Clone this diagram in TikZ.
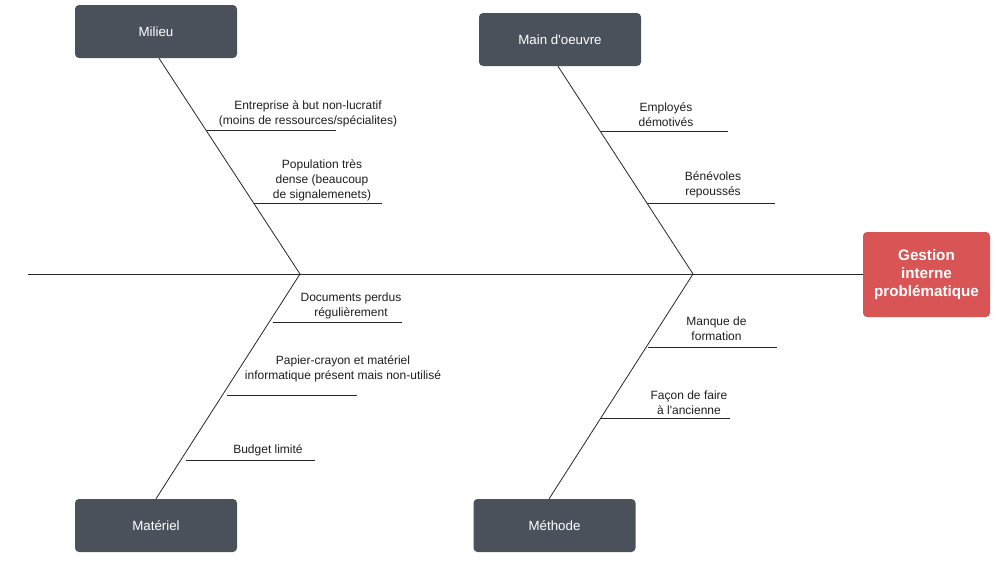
\documentclass[tikz,border=0pt]{standalone}
\usepackage{fontspec}
\setmainfont{Liberation Sans}
\definecolor{boxgray}{RGB}{75,81,91}
\definecolor{boxred}{RGB}{217,85,85}
\definecolor{txtgray}{RGB}{30,30,30}
\tikzset{
    category/.style={fill=boxgray, rounded corners=3pt, minimum width=121.5pt, minimum height=39.75pt,
        text=white, font=\fontsize{10}{12}\selectfont},
    effect/.style={fill=boxred, rounded corners=3pt, minimum width=95.25pt, minimum height=63.75pt,
        text=white, align=center, font=\bfseries\fontsize{11.4}{13.5}\selectfont},
    cause/.style={align=center, inner sep=0pt, text=txtgray, font=\fontsize{9}{11.25}\selectfont},
    bone/.style={line width=0.6pt, black!85}
}

\begin{document}
\begin{tikzpicture}[x=0.75pt, y=-0.75pt]
        \useasboundingbox (0,0) rectangle (1008,561);

        % head and categories
        \node[effect] (gestion) at (926.5,274.5) {Gestion\\interne\\problématique};
        \node[category] (milieu) at (156,31.5) {Milieu};
        \node[category] (main) at (560,39.5) {Main d\textquotesingle oeuvre};
        \node[category] (materiel) at (156,525.5) {Matériel};
        \node[category] (methode) at (554.5,525.5) {Méthode};

        % spine
        \coordinate (tail) at (28,274);
        \coordinate (j1) at (300,274);
        \coordinate (j2) at (693,274);
        \draw[bone] (tail) -- (gestion.west |- tail);
        \draw[bone] ([xshift=2.25pt]milieu.south) -- (j1);
        \draw[bone] ([xshift=-1.5pt]main.south) -- (j2);
        \draw[bone] (materiel.north) -- (j1);
        \draw[bone] ([xshift=-4pt]methode.north) -- (j2);

        % causes
        \node[cause] (entreprise) at (308,114) {Entreprise à but non-lucratif\\(moins de ressources/spécialites)};
        \draw[bone] (207,130) -- (336,130);
        \node[cause] (population) at (322,180) {Population très\\dense (beaucoup\\de signalemenets)};
        \draw[bone] (254,203) -- (382,203);

        \node[cause] (employes) at (666,114.5) {Employés\\démotivés};
        \draw[bone] (601,131) -- (728,131);
        \node[cause] (benevoles) at (713,184.5) {Bénévoles\\repoussés};
        \draw[bone] (647,203) -- (775,203);

        \node[cause] (documents) at (351,305.5) {Documents perdus\\régulièrement};
        \draw[bone] (273,322) -- (402,322);
        \node[cause] (papier) at (343,369) {Papier-crayon et matériel\\informatique présent mais non-utilisé};
        \draw[bone] (227,395) -- (357,395);
        \node[cause] (budget) at (268,450) {Budget limité};
        \draw[bone] (186,460) -- (315,460);

        \node[cause] (manque) at (716.5,329) {Manque de\\formation};
        \draw[bone] (648,347) -- (777,347);
        \node[cause] (facon) at (689,403) {Façon de faire\\à l\textquotesingle ancienne};
        \draw[bone] (601,418) -- (730,418);
    \end{tikzpicture}
\end{document}
